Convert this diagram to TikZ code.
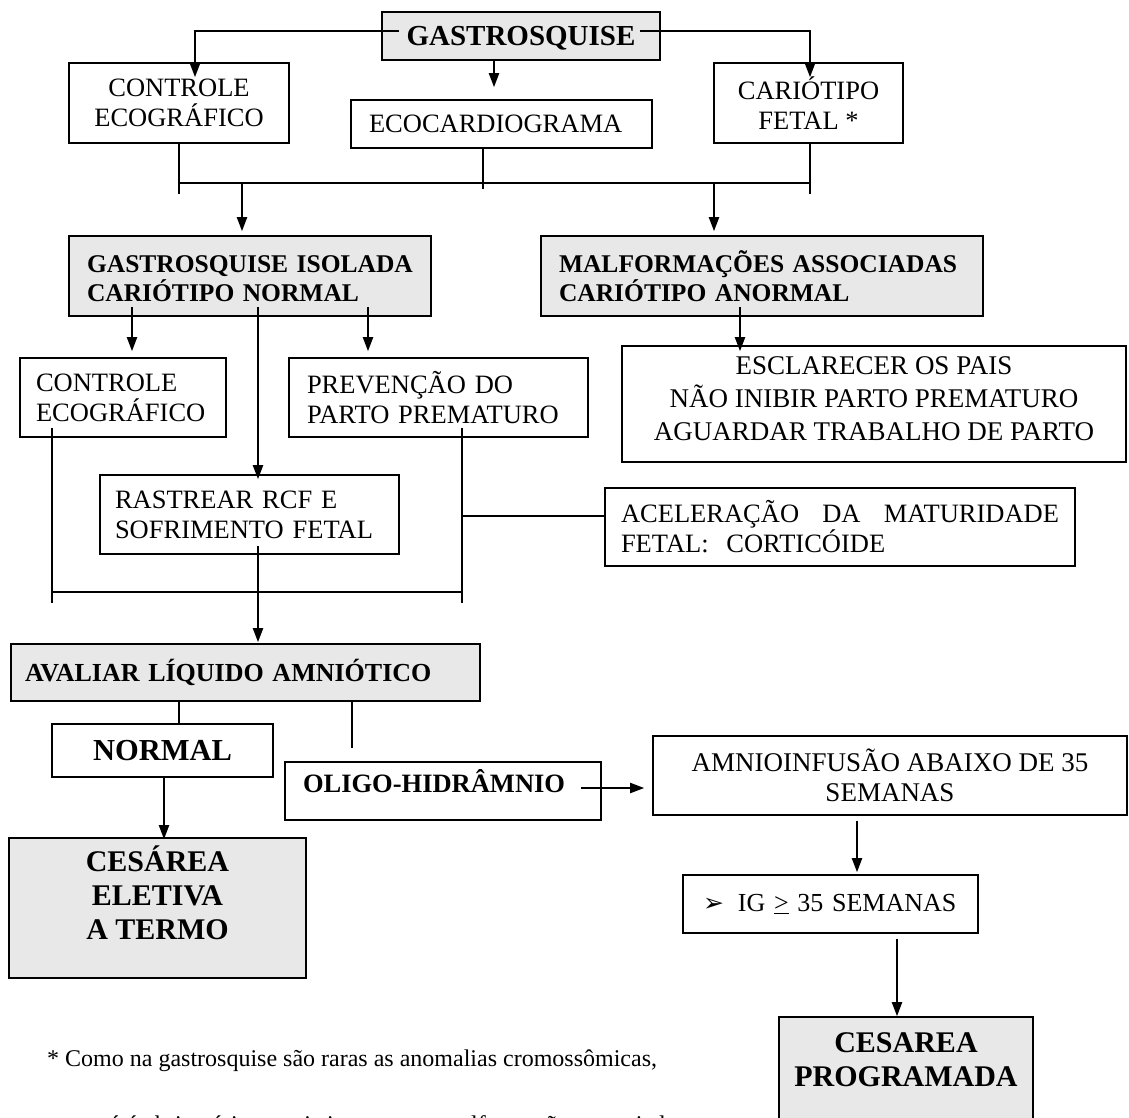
\documentclass[tikz,border=0pt]{standalone}
\usepackage{fontspec}
\setmainfont{Liberation Serif}
\newfontfamily\dingfont{DejaVu Sans}
\usepackage{tikz}
\usetikzlibrary{arrows.meta}
\usetikzlibrary{positioning}
\definecolor{mgray}{RGB}{232,232,232}

\tikzset{
  box/.style={draw, line width=1.6pt, inner sep=0pt, align=center,
    font=\fontsize{26.5}{30}\selectfont},
  shaded/.style={box, fill=mgray, font=\bfseries\fontsize{25.5}{29}\selectfont},
  big/.style={font=\bfseries\fontsize{30}{34}\selectfont},
  lefttext/.style 2 args={text width=#1, inner xsep=#2, align=left},
  arrow/.style={line width=2pt, -{Triangle[length=14pt,width=10pt]}},
  link/.style={line width=1.2pt},
  note/.style={inner sep=0pt, font=\fontsize{24}{24}\selectfont}
}

\begin{document}
\begin{tikzpicture}[x=1pt, y=-1pt]
  \useasboundingbox (0,0) rectangle (1129,1117);
  \clip (0,0) rectangle (1129,1117);

  % first level
  \node[shaded, font=\bfseries\fontsize{29}{33}\selectfont, minimum width=278pt,
    minimum height=48pt, text depth=0pt] (gastro) at (521,36) {GASTROSQUISE};
  \node[box, minimum width=220pt, minimum height=80pt] (ctrlA) at (179,103)
    {CONTROLE\\ECOGRÁFICO};
  \node[box, lefttext={265pt}{18pt}, minimum height=48pt] (eco) at (501.5,124)
    {ECOCARDIOGRAMA};
  \node[box, minimum width=189pt, minimum height=80pt] (cario) at (808.5,103)
    {CARIÓTIPO\\FETAL *};

  \draw[arrow] ([xshift=18pt,yshift=5pt]gastro.west) -| ([xshift=16pt,yshift=-15pt]ctrlA.north);
  \draw[arrow] ([xshift=-21pt,yshift=5pt]gastro.east) -| ([xshift=1.5pt,yshift=-15pt]cario.north);
  \draw[arrow] ([xshift=-27pt]gastro.south) -- ([xshift=-7.5pt,yshift=12pt]eco.north);

  % second level
  \node[shaded, lefttext={326pt}{18pt}, minimum height=80pt] (gi) at (250,276)
    {\vphantom{Õ}GASTROSQUISE ISOLADA\\CARIÓTIPO NORMAL};
  \node[shaded, lefttext={406pt}{18pt}, minimum height=80pt] (mal) at (762,276)
    {MALFORMAÇÕES ASSOCIADAS\\CARIÓTIPO ANORMAL};

  \coordinate (barL) at (179,183);
  \coordinate (barR) at (810,183);
  \draw[link] (ctrlA.south) -- ++(0,50);
  \draw[link] ([xshift=-18.5pt]eco.south) -- ++(0,40);
  \draw[link] ([xshift=1.5pt]cario.south) -- ++(0,50);
  \draw[link] (barL) -- (barR);
  \draw[arrow] ([xshift=63pt]barL) -- ([xshift=-8pt,yshift=4pt]gi.north);
  \draw[arrow] ([xshift=-96pt]barR) -- ([xshift=-48pt,yshift=4pt]mal.north);

  % third level
  \node[box, lefttext={174pt}{16pt}, minimum height=79pt] (ctrlB) at (123,397.5)
    {CONTROLE\\ECOGRÁFICO};
  \node[box, lefttext={263pt}{18pt}, minimum height=79pt] (prev) at (438.5,397.5)
    {PREVENÇÃO DO\\PARTO PREMATURO};
  \node[box, font=\fontsize{27}{33}\selectfont, minimum width=504pt, minimum height=116pt,
    text depth=10pt] (escl) at (874,404)
    {ESCLARECER OS PAIS\\NÃO INIBIR PARTO PREMATURO\\AGUARDAR TRABALHO DE PARTO};
  \node[box, lefttext={269pt}{15pt}, minimum height=79pt] (rast) at (249.5,514.5)
    {RASTREAR RCF E\\SOFRIMENTO FETAL};
  \node[box, lefttext={438pt}{16pt}, minimum height=78pt] (acel) at (840,527)
    {\makebox[438pt][l]{ACELERAÇÃO\hfill DA\hfill MATURIDADE}\\FETAL:\ \ CORTICÓIDE};

  \draw[arrow] ([xshift=-118pt,yshift=10pt]gi.south) -- ([xshift=9pt,yshift=6pt]ctrlB.north);
  \draw[arrow] ([xshift=8pt,yshift=10pt]gi.south) -- ([xshift=8.5pt,yshift=-5pt]rast.north);
  \draw[arrow] ([xshift=118pt,yshift=10pt]gi.south) -- ([xshift=-70.5pt,yshift=6pt]prev.north);
  \draw[arrow] ([xshift=-22pt,yshift=10pt]mal.south) -- ([xshift=-134pt,yshift=-6pt]escl.north);

  \coordinate (barC) at (52,592);
  \coordinate (barD) at (462,592);
  \draw[link] ([xshift=-71pt,yshift=10pt]ctrlB.south) -- ++(0,175);
  \draw[link] ([xshift=23.5pt,yshift=10pt]prev.south) -- ++(0,175);
  \draw[link] (barC) -- (barD);
  \draw[link] ([yshift=11pt]acel.west) -- ++(-143,0);

  % liquid
  \node[shaded, font=\bfseries\fontsize{26}{30}\selectfont, lefttext={441pt}{14pt},
    minimum height=57pt] (aval) at (245.5,672.5) {AVALIAR LÍQUIDO AMNIÓTICO};
  \draw[arrow] ([xshift=8.5pt,yshift=9pt]rast.south) -- ([xshift=12.5pt,yshift=1pt]aval.north);

  \node[box, big, font=\bfseries\fontsize{30.5}{34}\selectfont, minimum width=221pt,
    minimum height=53pt] (normal) at (162.5,750.5) {NORMAL};
  \node[box, font=\bfseries\fontsize{26.5}{30}\selectfont, lefttext={280pt}{18pt},
    minimum height=58pt, text depth=20pt] (oligo) at (443,791) {OLIGO-HIDRÂMNIO};
  \node[shaded, big, minimum width=297pt, minimum height=140pt, text depth=30pt]
    (cesA) at (157.5,908) {CESÁREA\\ELETIVA\\A TERMO};
  \node[box, font=\fontsize{27}{30}\selectfont, minimum width=474pt, minimum height=79pt]
    (amnio) at (890,775.5) {AMNIOINFUSÃO ABAIXO DE 35\\SEMANAS};
  \node[box, font=\fontsize{26}{30}\selectfont, lefttext={255pt}{20pt}, minimum height=58pt]
    (ig) at (830.5,904)
    {{\dingfont\fontsize{25}{25}\selectfont ➢}\hspace{14pt}IG \underline{>} 35 SEMANAS};
  \node[shaded, big, minimum width=254pt, minimum height=108pt, text depth=22pt]
    (cesB) at (906,1071) {CESAREA\\PROGRAMADA};

  \draw[link] ([xshift=-66.5pt]aval.south) -- ([xshift=16.5pt]normal.north);
  \draw[link] ([xshift=106.5pt]aval.south) -- ([xshift=-91pt,yshift=13pt]oligo.north);
  \draw[arrow] ([xshift=1.5pt]normal.south) -- ([xshift=6.5pt,yshift=-2pt]cesA.north);
  \draw[arrow] ([xshift=-21pt,yshift=3pt]oligo.east) -- ([xshift=-8pt,yshift=-12.5pt]amnio.west);
  \draw[arrow] ([xshift=-33pt,yshift=-5pt]amnio.south) -- ([xshift=26.5pt,yshift=2pt]ig.north);
  \draw[arrow] ([xshift=66.5pt,yshift=-5pt]ig.south) -- ([xshift=-9pt]cesB.north);

  % footnote
  \node[note, anchor=base west] (noteA) at (47,1066)
    {* Como na gastrosquise são raras as anomalias cromossômicas,};
  \node[note, anchor=base west] (noteB) at (99,1132)
    {só é obrigatório se existirem outras malformações associadas};
\end{tikzpicture}
\end{document}
